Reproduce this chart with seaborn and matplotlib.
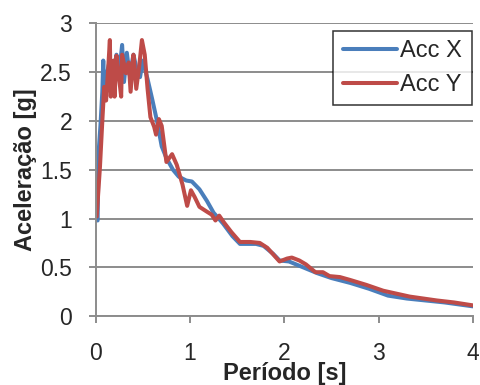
import matplotlib
matplotlib.use("Agg")
import matplotlib.pyplot as plt
import seaborn as sns
import pandas as pd

sns.set_theme(style="white")
plt.rcParams['font.family'] = ['Liberation Sans', 'DejaVu Sans']

# Acc X (blue)
tx = [0.02, 0.03, 0.05, 0.07, 0.08, 0.09, 0.11, 0.14, 0.16, 0.18, 0.20, 0.22, 0.25, 0.28, 0.30,
      0.33, 0.36, 0.40, 0.43, 0.47, 0.50, 0.55, 0.60, 0.65, 0.70, 0.75, 0.82, 0.88, 0.96, 1.02,
      1.10, 1.18, 1.25, 1.35, 1.45, 1.53, 1.60, 1.70, 1.78, 1.88, 1.95, 2.05, 2.15, 2.25, 2.35,
      2.50, 2.70, 2.90, 3.10, 3.30, 3.50, 3.70, 3.85, 4.00]
ax_vals = [0.98, 1.67, 1.95, 2.30, 2.62, 2.25, 2.45, 2.58, 2.30, 2.40, 2.55, 2.68, 2.50, 2.78, 2.40,
           2.70, 2.47, 2.68, 2.55, 2.45, 2.62, 2.43, 2.22, 2.00, 1.74, 1.62, 1.50, 1.43, 1.39, 1.38,
           1.30, 1.18, 1.06, 0.95, 0.82, 0.74, 0.74, 0.74, 0.72, 0.64, 0.57, 0.56, 0.52, 0.48, 0.44,
           0.39, 0.34, 0.28, 0.21, 0.18, 0.16, 0.14, 0.12, 0.10]

# Acc Y (red)
ty = [0.01, 0.045, 0.07, 0.09, 0.11, 0.13, 0.15, 0.16, 0.19, 0.20, 0.22, 0.25, 0.27, 0.28,
      0.32, 0.35, 0.37, 0.40, 0.41, 0.43, 0.46, 0.49, 0.52, 0.55, 0.58, 0.62, 0.64, 0.67, 0.70,
      0.75, 0.78, 0.81, 0.86, 0.92, 0.97, 1.01, 1.05, 1.10, 1.18, 1.23, 1.27, 1.31, 1.36, 1.44,
      1.53, 1.64, 1.74, 1.82, 1.95, 2.03, 2.08, 2.16, 2.23, 2.33, 2.41, 2.48, 2.59, 2.70, 2.87,
      3.05, 3.33, 3.62, 3.80, 4.00]
ay_vals = [1.02, 1.53, 2.00, 2.35, 2.21, 2.50, 2.83, 2.25, 2.62, 2.25, 2.67, 2.42, 2.25, 2.68,
           2.49, 2.60, 2.30, 2.68, 2.58, 2.33, 2.55, 2.83, 2.68, 2.33, 2.04, 1.94, 1.86, 2.02, 1.95,
           1.58, 1.62, 1.66, 1.55, 1.35, 1.13, 1.29, 1.22, 1.12, 1.07, 1.04, 0.98, 1.03, 0.96, 0.86,
           0.76, 0.76, 0.75, 0.70, 0.56, 0.59, 0.60, 0.57, 0.53, 0.45, 0.45, 0.41, 0.40, 0.37, 0.32,
           0.26, 0.20, 0.16, 0.14, 0.11]

df = pd.concat([
    pd.DataFrame({"T": tx, "A": ax_vals, "s": "Acc X"}),
    pd.DataFrame({"T": ty, "A": ay_vals, "s": "Acc Y"}),
])

fig = plt.figure(figsize=(4.81, 3.85), dpi=100)
ax = fig.add_axes([0.199, 0.179, 0.784, 0.760])
sns.lineplot(data=df, x="T", y="A", hue="s", palette=["#4A7EBB", "#BE4B48"],
             linewidth=2.9, sort=False, estimator=None, ax=ax)

ax.set_xlim(0, 4)
ax.set_ylim(0, 3)
ax.set_xticks([0, 1, 2, 3, 4])
ax.set_yticks([0, 0.5, 1, 1.5, 2, 2.5, 3])
ax.set_yticklabels(["0", "0.5", "1", "1.5", "2", "2.5", "3"])
ax.yaxis.grid(True, color="#8c8c8c", linewidth=1.4)
ax.set_axisbelow(True)
for s in ["top", "right"]:
    ax.spines[s].set_visible(False)
for s in ["left", "bottom"]:
    ax.spines[s].set_color("#8c8c8c")
    ax.spines[s].set_linewidth(1.4)
ax.tick_params(axis="y", which="major", direction="out", length=5, width=1.4, color="#8c8c8c",
               labelsize=16.5, pad=12, left=True)
ax.tick_params(axis="x", which="major", direction="out", length=5, width=1.4, color="#8c8c8c",
               labelsize=16.5, pad=14, bottom=True)
ax.set_xlabel("Período [s]", fontsize=17, fontweight="bold")
ax.set_ylabel("Aceleração [g]", fontsize=17, fontweight="bold")
ax.xaxis.set_label_coords(0.5, -0.158)
ax.yaxis.set_label_coords(-0.157, 0.5)

leg = ax.legend(loc="upper right", bbox_to_anchor=(0.997, 0.975), fontsize=17, frameon=True,
                fancybox=False, edgecolor="black", handlelength=2.3, borderpad=0.4,
                labelspacing=0.5, handletextpad=0.15, borderaxespad=0.0)
leg.get_frame().set_linewidth(1.1)
leg.get_frame().set_facecolor("white")
for line in leg.get_lines():
    line.set_linewidth(2.9)

fig.savefig("out.png", dpi=100)
